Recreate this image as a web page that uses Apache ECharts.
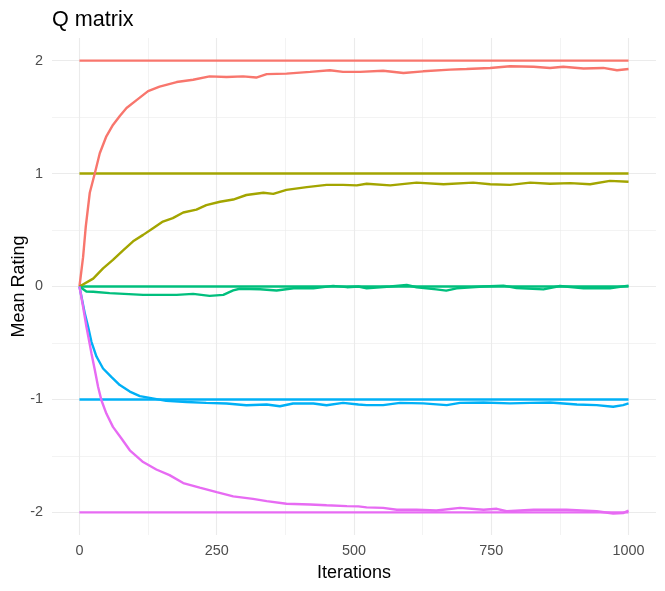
<!DOCTYPE html>
<html><head><meta charset="utf-8">
<script src="https://cdn.jsdelivr.net/npm/echarts@6/dist/echarts.min.js"></script>
<style>html,body{margin:0;padding:0;background:#fff}#c{width:665px;height:591px}</style>
</head><body><div id="c"></div>
<script>
const colors = ['#F8766D', '#A3A500', '#00BF7D', '#00B0F6', '#E76BF3'];
const targets = [2, 1, 0, -1, -2];
const xTicks = [0, 250, 500, 750, 1000];
const xMinor = [125, 375, 625, 875];
const yTicks = [-2, -1, 0, 1, 2];
const yMinor = [-1.5, -0.5, 0.5, 1.5];

const iterRed = [0, 6.6, 11.5, 18.8, 27.9, 37, 49, 61, 73.5, 85.7, 104, 125, 146, 177, 207, 237, 268, 298, 322, 341, 377, 420, 456, 480, 511, 553, 590, 626, 675, 705, 748, 784, 827, 857, 881, 918, 954, 979, 1000];
const valRed = [0, 0.26, 0.53, 0.83, 1.00, 1.18, 1.33, 1.43, 1.51, 1.58, 1.65, 1.73, 1.77, 1.81, 1.83, 1.86, 1.855, 1.86, 1.85, 1.88, 1.885, 1.90, 1.915, 1.90, 1.90, 1.91, 1.89, 1.905, 1.92, 1.925, 1.935, 1.95, 1.945, 1.935, 1.945, 1.93, 1.935, 1.915, 1.925];

const iterYellow = [0, 25, 43, 61, 79.5, 97.7, 116, 134, 152, 170, 189, 213, 231, 256, 280, 304, 335, 353, 377, 414, 450, 480, 505, 523, 566, 614, 663, 717, 748, 784, 821, 857, 894, 930, 966, 1000];
const valYellow = [0, 0.07, 0.16, 0.235, 0.32, 0.40, 0.457, 0.516, 0.575, 0.605, 0.655, 0.68, 0.72, 0.75, 0.77, 0.81, 0.83, 0.82, 0.855, 0.88, 0.90, 0.90, 0.895, 0.91, 0.895, 0.92, 0.905, 0.92, 0.905, 0.90, 0.92, 0.91, 0.915, 0.905, 0.935, 0.927];

const iterGreen = [0, 12.6, 25, 55, 116, 177, 207, 237, 262, 280, 292, 329, 359, 390, 426, 462, 487, 508, 523, 566, 596, 614, 650, 668, 687, 735, 772, 796, 845, 875, 918, 966, 1000];
const valGreen = [0, -0.044, -0.046, -0.059, -0.074, -0.074, -0.065, -0.083, -0.074, -0.035, -0.02, -0.024, -0.035, -0.015, -0.015, 0.006, -0.006, 0, -0.016, 0, 0.013, -0.007, -0.025, -0.037, -0.016, 0, 0.008, -0.013, -0.025, 0.004, -0.016, -0.016, 0.008];

const iterBlue = [0, 9.7, 15.8, 21.8, 31, 43, 58, 73.5, 91.7, 110, 128, 158, 195, 231, 268, 304, 341, 365, 389, 426, 450, 480, 508, 523, 553, 584, 626, 669, 693, 736, 784, 821, 857, 906, 942, 972, 990, 1000];
const valBlue = [0, -0.238, -0.356, -0.49, -0.62, -0.726, -0.80, -0.873, -0.93, -0.97, -0.986, -1.013, -1.022, -1.03, -1.036, -1.051, -1.045, -1.06, -1.036, -1.036, -1.051, -1.03, -1.045, -1.05, -1.05, -1.03, -1.035, -1.05, -1.03, -1.027, -1.035, -1.03, -1.027, -1.045, -1.05, -1.065, -1.05, -1.035];

const iterMagenta = [0, 6.6, 12.7, 21.8, 28, 34, 40, 49, 61, 76.5, 91.7, 116, 140, 164, 189, 219, 250, 280, 316, 341, 377, 420, 450, 487, 508, 523, 553, 578, 614, 650, 693, 736, 760, 778, 827, 887, 942, 972, 990, 1000];
const valMagenta = [0, -0.18, -0.356, -0.59, -0.74, -0.89, -1.007, -1.125, -1.243, -1.346, -1.45, -1.554, -1.62, -1.67, -1.74, -1.78, -1.82, -1.858, -1.88, -1.90, -1.923, -1.93, -1.937, -1.944, -1.947, -1.955, -1.96, -1.977, -1.977, -1.983, -1.96, -1.977, -1.968, -1.99, -1.977, -1.977, -1.99, -2.01, -2.006, -1.983];

const curves = [[iterRed, valRed], [iterYellow, valYellow], [iterGreen, valGreen], [iterBlue, valBlue], [iterMagenta, valMagenta]];

const series = [];
targets.forEach((t, i) => {
  series.push({
    type: 'line', xAxisIndex: 0, yAxisIndex: 0, showSymbol: false, silent: true,
    data: [[0, t], [1000, t]],
    lineStyle: { color: colors[i], width: 2.4 }, z: 3
  });
});
curves.forEach((c, i) => {
  series.push({
    type: 'line', xAxisIndex: 0, yAxisIndex: 0, showSymbol: false, silent: true,
    data: c[0].map((x, k) => [x, c[1][k]]),
    lineStyle: { color: colors[i], width: 2.4 }, z: 4
  });
});

const gridCol = '#EBEBEB';
const font = 'Liberation Sans';
const chart = echarts.init(document.getElementById('c'), null, { renderer: 'canvas' });
chart.setOption({
  animation: false,
  backgroundColor: '#fff',
  title: { text: 'Q matrix', left: 52, top: 9, padding: 0,
    textStyle: { fontFamily: font, fontSize: 21.6, fontWeight: 'normal', color: '#000' } },
  grid: { left: 52, right: 9, top: 38, bottom: 56, containLabel: false, outerBoundsMode: 'none' },
  xAxis: [
    { type: 'value', min: -50, max: 1050, position: 'bottom',
      name: 'Iterations', nameLocation: 'middle', nameGap: 29, nameMoveOverlap: false,
      nameTextStyle: { fontFamily: font, fontSize: 18, color: '#000', verticalAlign: 'top' },
      axisLine: { show: false }, axisTick: { show: false, customValues: xTicks },
      axisLabel: { customValues: xTicks, margin: 9, fontFamily: font, fontSize: 14.4, color: '#4D4D4D',
        formatter: v => String(v) },
      splitLine: { show: true, lineStyle: { color: gridCol, width: 1.1 } } },
    { type: 'value', min: -50, max: 1050, position: 'top',
      axisLine: { show: false }, axisTick: { show: false, customValues: xMinor },
      axisLabel: { show: false, customValues: xMinor },
      splitLine: { show: true, lineStyle: { color: gridCol, width: 0.6 } } }
  ],
  yAxis: [
    { type: 'value', min: -2.2, max: 2.2, position: 'left',
      name: 'Mean Rating', nameLocation: 'middle', nameGap: 24, nameRotate: 90, nameMoveOverlap: false,
      nameTextStyle: { fontFamily: font, fontSize: 18, color: '#000' },
      axisLine: { show: false }, axisTick: { show: false, customValues: yTicks },
      axisLabel: { customValues: yTicks, margin: 9, fontFamily: font, fontSize: 14.4, color: '#4D4D4D',
        formatter: v => String(v) },
      splitLine: { show: true, lineStyle: { color: gridCol, width: 1.1 } } },
    { type: 'value', min: -2.2, max: 2.2, position: 'right',
      axisLine: { show: false }, axisTick: { show: false, customValues: yMinor },
      axisLabel: { show: false, customValues: yMinor },
      splitLine: { show: true, lineStyle: { color: gridCol, width: 0.6 } } }
  ],
  series: series
});
</script></body></html>
